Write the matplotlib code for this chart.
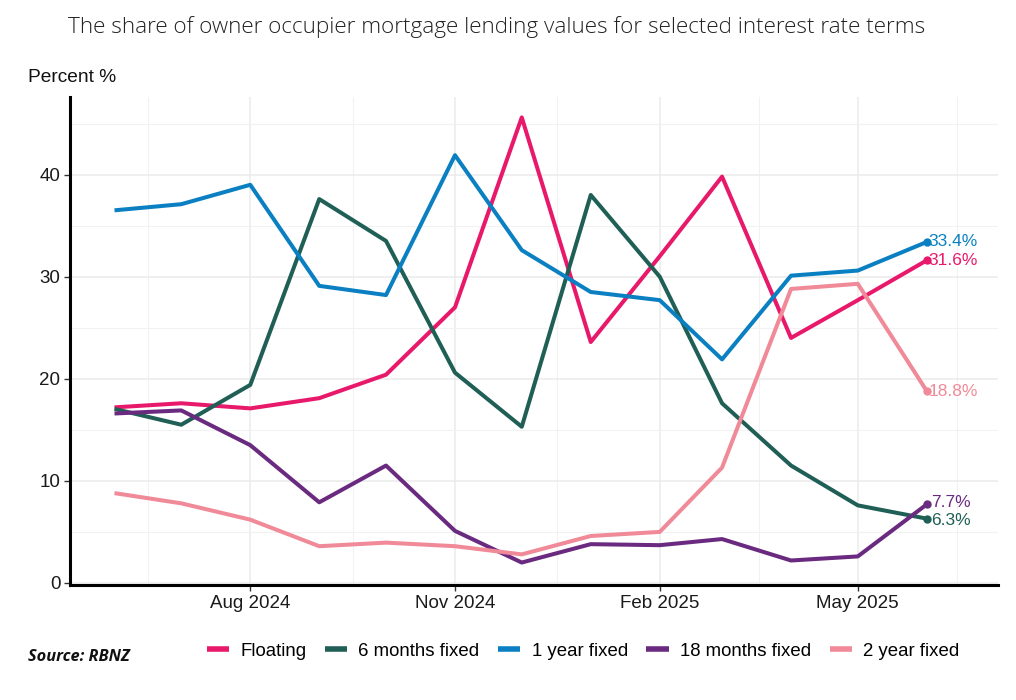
import matplotlib
matplotlib.use("Agg")
import matplotlib.pyplot as plt
from matplotlib.ticker import MultipleLocator
import pandas as pd

months = pd.date_range("2024-06-01", "2025-06-01", freq="MS")

floating = [17.2, 17.6, 17.1, 18.1, 20.4, 27.0, 45.6, 23.6, 32.0, 39.8, 24.0, 27.7, 31.6]
six_months = [17.05, 15.5, 19.4, 37.6, 33.5, 20.6, 15.3, 38.0, 30.0, 17.6, 11.5, 7.6, 6.3]
one_year = [36.5, 37.1, 39.0, 29.1, 28.2, 41.9, 32.6, 28.5, 27.7, 21.9, 30.1, 30.6, 33.4]
eighteen_months = [16.6, 16.9, 13.5, 7.9, 11.5, 5.1, 2.0, 3.8, 3.7, 4.3, 2.2, 2.6, 7.7]
two_year = [8.8, 7.8, 6.2, 3.6, 3.95, 3.6, 2.8, 4.6, 5.0, 11.3, 28.8, 29.3, 18.8]

series_names = ["Floating", "6 months fixed", "1 year fixed", "18 months fixed", "2 year fixed"]
series_values = [floating, six_months, one_year, eighteen_months, two_year]
colors = ["#E8196A", "#1F5F55", "#0A80C2", "#6A2A80", "#F08A98"]

x_ticks = pd.to_datetime(["2024-08-01", "2024-11-01", "2025-02-01", "2025-05-01"])
x_tick_labels = ["Aug 2024", "Nov 2024", "Feb 2025", "May 2025"]
y_ticks = [0, 10, 20, 30, 40]

fig = plt.figure(figsize=(10.16, 7.0), dpi=100)
ax = fig.add_axes([70/1016, 1 - 585/700, (998-70)/1016, (585-97)/700])

for name, vals, c in zip(series_names, series_values, colors):
    ax.plot(months, vals, color=c, lw=2.9, label=name, solid_capstyle="butt", zorder=3)
    ax.plot(months[-1], vals[-1], "o", color=c, ms=5, zorder=4)

label_offsets = {"Floating": (1, 0), "6 months fixed": (3, -1.5), "1 year fixed": (1, 0),
                 "18 months fixed": (3, 1.5), "2 year fixed": (1, 0)}
for name, vals, c in zip(series_names, series_values, colors):
    ax.annotate(f"{vals[-1]:.1f}%", (months[-1], vals[-1]), xytext=label_offsets[name],
                textcoords="offset points", color=c, fontsize=12.5,
                family="Liberation Sans", va="center", ha="left")

ax.set_xlim(pd.Timestamp("2024-05-12"), pd.Timestamp("2025-07-03"))
ax.set_ylim(-0.2, 47.6)
ax.set_xticks(x_ticks)
ax.set_xticklabels(x_tick_labels)
ax.set_yticks(y_ticks)
ax.yaxis.set_minor_locator(MultipleLocator(5))
minor_x = [x_ticks[0] - (x_ticks[1] - x_ticks[0]) / 2] + \
          [x_ticks[i] + (x_ticks[i+1] - x_ticks[i]) / 2 for i in range(3)] + \
          [x_ticks[3] + (x_ticks[3] - x_ticks[2]) / 2]
ax.set_xticks(minor_x, minor=True)

ax.grid(True, which="major", color="#EBEBEB", lw=1.1, zorder=0)
ax.grid(True, which="minor", color="#F2F2F2", lw=0.8, zorder=0)
ax.tick_params(which="minor", length=0)
ax.tick_params(which="major", length=4, width=1, color="#333333",
               labelsize=13.5, labelcolor="#1a1a1a", pad=3)
for lbl in ax.get_xticklabels() + ax.get_yticklabels():
    lbl.set_family("Liberation Sans")

for s in ["top", "right"]:
    ax.spines[s].set_visible(False)
for s in ["left", "bottom"]:
    ax.spines[s].set_linewidth(2.2)
    ax.spines[s].set_color("black")

fig.text(68/1016, 1 - 27/700, "The share of owner occupier mortgage lending values for selected interest rate terms",
         fontsize=16.2, family="Open Sans", fontweight="light", color="#222222", va="center", ha="left")
fig.text(28/1016, 1 - 77/700, "Percent %", fontsize=13.8, family="Liberation Sans",
         color="#111111", va="center", ha="left")
fig.text(28/1016, 1 - 657/700, "Source: RBNZ", fontsize=11.8, family="Open Sans",
         fontweight="bold", style="italic", color="#111111", va="center", ha="left")

leg = fig.legend(loc="center", bbox_to_anchor=(583/1016, 1 - 651/700), ncol=5,
                 frameon=False, handlelength=1.2, handletextpad=0.6, columnspacing=1.0,
                 prop={"family": "Liberation Sans", "size": 13.4})
for h in leg.get_lines():
    h.set_linewidth(4)

fig.savefig("out.png", dpi=100)
